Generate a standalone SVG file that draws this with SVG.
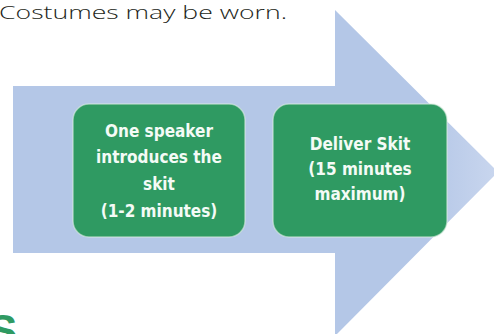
<svg xmlns="http://www.w3.org/2000/svg" width="494" height="334" viewBox="0 0 494 334">
<defs>
<style>
.box{fill:#2f9a62;stroke:#d8ece0;stroke-opacity:0.6;stroke-width:1.5}
.lbl{font-family:"Liberation Sans Narrow","DejaVu Sans Condensed","Liberation Sans",sans-serif;font-weight:bold;font-size:17px;fill:#f4fbf6;text-anchor:middle}
</style>
<linearGradient id="fade" x1="0" y1="0" x2="1" y2="0">
<stop offset="0" stop-color="#b4c7e7"/>
<stop offset="0.85" stop-color="#b4c7e7"/>
<stop offset="1" stop-color="#c9d6ee"/>
</linearGradient>
</defs>
<rect width="494" height="334" fill="#ffffff"/>
<text x="-1" y="19" font-family="Open Sans, Liberation Sans, sans-serif" font-weight="300" font-size="19" fill="#231f20" textLength="288" lengthAdjust="spacingAndGlyphs">Costumes may be worn.</text>
<g id="connectors">
<path d="M13,86 L335,86 L335,10 L498,172 L335,336 L335,253 L13,253 Z" fill="url(#fade)"/>
</g>
<g id="node1">
<rect class="box" x="73" y="104" width="172" height="133" rx="16"/>
<text class="lbl" x="159" y="137">One speaker</text>
<text class="lbl" x="159" y="163">introduces the</text>
<text class="lbl" x="159" y="190">skit</text>
<text class="lbl" x="159" y="217">(1-2 minutes)</text>
</g>
<g id="node2">
<rect class="box" x="273" y="104" width="174" height="133" rx="16"/>
<text class="lbl" x="360" y="150">Deliver Skit</text>
<text class="lbl" x="360" y="175">(15 minutes</text>
<text class="lbl" x="360" y="200">maximum)</text>
</g>
<text x="-12" y="346" font-family="Liberation Sans, sans-serif" font-weight="bold" font-size="44" fill="#2f9a62">S</text>
</svg>
